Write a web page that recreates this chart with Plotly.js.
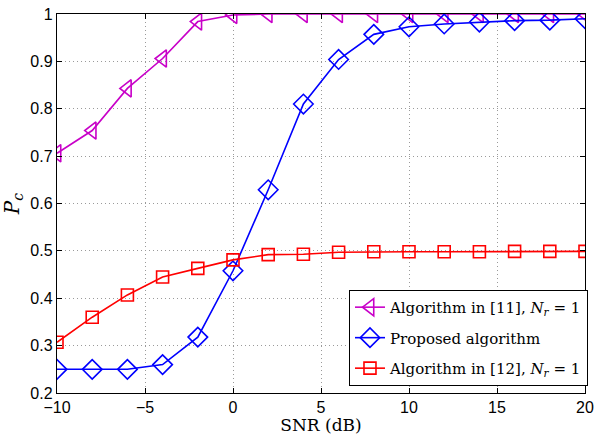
<!DOCTYPE html>
<html>
<head>
<meta charset="utf-8">
<script src="https://cdn.plot.ly/plotly-3.0.1.min.js"></script>
<style>html,body{margin:0;padding:0;background:#fff;}#chart{width:600px;height:435px;}</style>
</head>
<body>
<div id="chart"></div>
<script>
var snr = [-10, -8, -6, -4, -2, 0, 2, 4, 6, 8, 10, 12, 14, 16, 18, 20];
var alg11 = [0.706, 0.754, 0.843, 0.906, 0.984, 0.998, 1.0, 1.0, 1.0, 1.0, 1.0, 1.0, 1.0, 1.0, 1.0, 1.0];
var proposed = [0.25, 0.25, 0.25, 0.26, 0.318, 0.458, 0.629, 0.81, 0.904, 0.957, 0.973, 0.979, 0.983, 0.986, 0.987, 0.99];
var alg12 = [0.307, 0.36, 0.407, 0.445, 0.463, 0.481, 0.492, 0.493, 0.497, 0.498, 0.498, 0.498, 0.498, 0.499, 0.499, 0.499];
var names = ['Algorithm in [11], <i>N<sub>r</sub></i> = 1', 'Proposed algorithm', 'Algorithm in [12], <i>N<sub>r</sub></i> = 1'];
var xTicks = [-10, -5, 0, 5, 10, 15, 20];
var xTickText = ['\u221210', '\u22125', '0', '5', '10', '15', '20'];
var yTicks = [0.2, 0.3, 0.4, 0.5, 0.6, 0.7, 0.8, 0.9, 1];
var yTickText = ['0.2', '0.3', '0.4', '0.5', '0.6', '0.7', '0.8', '0.9', '1'];

var traces = [
  {x: snr, y: alg11, name: names[0], legendgroup: 'a', mode: 'lines+markers', line: {color: '#c800c8', width: 1.6},
   marker: {symbol: 'triangle-left-open', size: 15, color: '#c800c8', line: {width: 1.6}}},
  {x: snr, y: proposed, name: names[1], legendgroup: 'b', mode: 'lines+markers', line: {color: '#0000ff', width: 1.6},
   marker: {symbol: 'diamond-open', size: 15, color: '#0000ff', line: {width: 1.6}}},
  {x: snr, y: alg12, name: names[2], legendgroup: 'c', mode: 'lines+markers', line: {color: '#ff0000', width: 1.6},
   marker: {symbol: 'square-open', size: 12, color: '#ff0000', line: {width: 1.6}}}
];

var axisCommon = {
  showline: true, linecolor: '#000', linewidth: 1.2, mirror: 'ticks',
  ticks: 'inside', ticklen: 5, tickcolor: '#000', tickwidth: 1,
  showgrid: true, gridcolor: '#9a9a9a', griddash: '1px,3px', gridwidth: 1,
  zeroline: false,
  tickfont: {family: 'Liberation Sans, Arial, sans-serif', size: 16, color: '#000'}
};

var layout = {
  width: 600, height: 435,
  margin: {l: 57, r: 12, t: 14, b: 42},
  paper_bgcolor: '#fff', plot_bgcolor: '#fff',
  showlegend: true,
  xaxis: Object.assign({}, axisCommon, {
    range: [-10, 20], tickvals: xTicks, ticktext: xTickText,
    title: {text: 'SNR (dB)', font: {family: 'DejaVu Serif, serif', size: 17, color: '#000'}, standoff: 1}
  }),
  yaxis: Object.assign({}, axisCommon, {
    range: [0.2, 1], tickvals: yTicks, ticktext: yTickText,
    title: {text: '<i>P<sub>c</sub></i>', font: {family: 'DejaVu Serif, serif', size: 20, color: '#000'}, standoff: 8}
  }),
  legend: {
    x: 0.553, y: 0.272, xanchor: 'left', yanchor: 'top',
    bgcolor: '#fff', bordercolor: '#000', borderwidth: 1,
    font: {family: 'DejaVu Serif, serif', size: 15, color: '#000'},
    traceorder: 'grouped', tracegroupgap: 8, itemwidth: 30
  }
};

Plotly.newPlot('chart', traces, layout, {displayModeBar: false, staticPlot: true});
</script>
</body>
</html>
